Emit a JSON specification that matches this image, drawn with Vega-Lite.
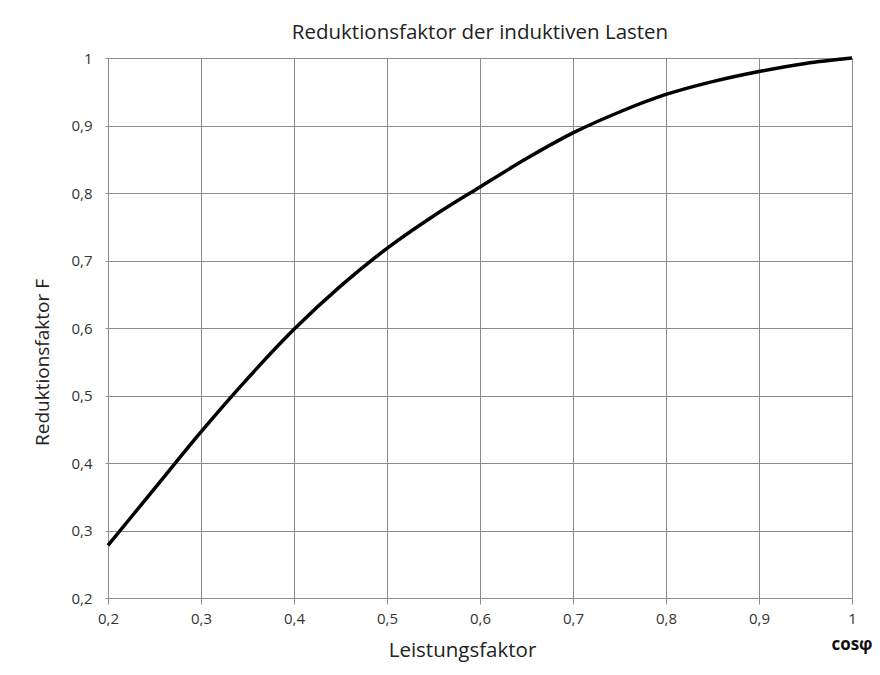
{
  "$schema": "https://vega.github.io/schema/vega-lite/v6.json",
  "width": 744,
  "height": 540,
  "autosize": {"type": "none"},
  "padding": {"left": 108, "top": 58, "right": 28, "bottom": 77},
  "background": "white",
  "title": {
    "text": "Reduktionsfaktor der induktiven Lasten",
    "font": "Open Sans",
    "fontSize": 20.5,
    "fontWeight": "normal",
    "color": "#222222",
    "anchor": "middle",
    "offset": 8
  },
  "datasets": {
    "curve": [
      {"pf": 0.2, "F": 0.278},
      {"pf": 0.25, "F": 0.362},
      {"pf": 0.3, "F": 0.446},
      {"pf": 0.35, "F": 0.525},
      {"pf": 0.4, "F": 0.598},
      {"pf": 0.45, "F": 0.662},
      {"pf": 0.5, "F": 0.718},
      {"pf": 0.55, "F": 0.766},
      {"pf": 0.6, "F": 0.809},
      {"pf": 0.65, "F": 0.851},
      {"pf": 0.7, "F": 0.889},
      {"pf": 0.75, "F": 0.92},
      {"pf": 0.8, "F": 0.946},
      {"pf": 0.85, "F": 0.965},
      {"pf": 0.9, "F": 0.98},
      {"pf": 0.95, "F": 0.992},
      {"pf": 1.0, "F": 1.0}
    ],
    "note": [{"pf": 1.0, "F": 0.2, "label": "cosφ"}]
  },
  "layer": [
    {
      "data": {"name": "curve"},
      "mark": {"type": "line", "color": "black", "strokeWidth": 3.5, "interpolate": "monotone", "clip": false},
      "encoding": {
        "x": {
          "field": "pf",
          "type": "quantitative",
          "scale": {"domain": [0.2, 1], "nice": false, "zero": false},
          "axis": {
            "title": "Leistungsfaktor",
            "values": [0.2, 0.3, 0.4, 0.5, 0.6, 0.7, 0.8, 0.9, 1],
            "labelExpr": "replace(format(datum.value, '~g'), '.', ',')",
            "grid": true,
            "gridColor": "#8c8c8c",
            "gridOpacity": 1,
            "domainColor": "#8c8c8c",
            "tickColor": "#8c8c8c",
            "tickSize": 6,
            "labelPadding": 7,
            "labelFont": "Open Sans",
            "labelFontSize": 15,
            "labelColor": "#333333",
            "labelFlush": false,
            "titleFont": "Open Sans",
            "titleFontSize": 20.5,
            "titleFontWeight": "normal",
            "titleColor": "#222222",
            "titleX": 354,
            "titleY": 58,
            "titleBaseline": "alphabetic",
            "titleAlign": "center"
          }
        },
        "y": {
          "field": "F",
          "type": "quantitative",
          "scale": {"domain": [0.2, 1], "nice": false, "zero": false},
          "axis": {
            "title": "Reduktionsfaktor F",
            "values": [0.2, 0.3, 0.4, 0.5, 0.6, 0.7, 0.8, 0.9, 1],
            "labelExpr": "replace(format(datum.value, '~g'), '.', ',')",
            "grid": true,
            "gridColor": "#8c8c8c",
            "gridOpacity": 1,
            "domainColor": "#8c8c8c",
            "tickColor": "#8c8c8c",
            "tickSize": 3,
            "labelPadding": 13,
            "labelFont": "Open Sans",
            "labelFontSize": 15,
            "labelColor": "#333333",
            "labelFlush": false,
            "titleFont": "Open Sans",
            "titleFontSize": 19,
            "titleFontWeight": "normal",
            "titleColor": "#222222",
            "titleAngle": -90,
            "titleX": -66,
            "titleY": 304,
            "titleBaseline": "middle",
            "titleAlign": "center"
          }
        }
      }
    },
    {
      "data": {"name": "note"},
      "mark": {"type": "text", "font": "Open Sans", "fontSize": 17, "fontWeight": "bold", "color": "#111111", "align": "center", "baseline": "alphabetic", "dy": 52, "clip": false},
      "encoding": {
        "x": {"field": "pf", "type": "quantitative"},
        "y": {"field": "F", "type": "quantitative"},
        "text": {"field": "label"}
      }
    }
  ],
  "config": {
    "view": {"stroke": "#8c8c8c", "strokeWidth": 1}
  }
}
